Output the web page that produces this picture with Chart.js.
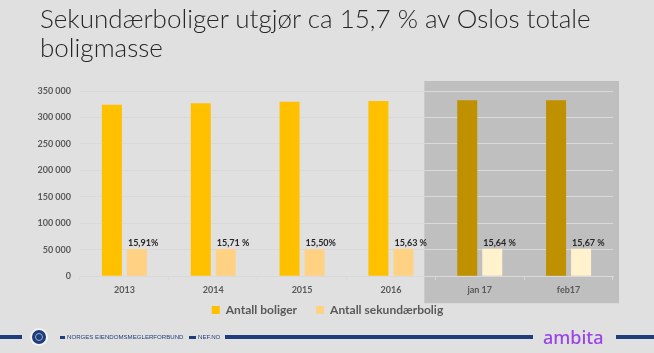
<!DOCTYPE html>
<html>
<head>
<meta charset="utf-8">
<script src="https://cdn.jsdelivr.net/npm/chart.js@4"></script>
<style>
  html, body { margin: 0; padding: 0; }
  body { width: 654px; height: 353px; background: #e0e0e0; position: relative; overflow: hidden; font-family: Lato, sans-serif; }
  #wrap { position: absolute; left: 0; top: 0; width: 654px; height: 353px; }
  .title { position: absolute; left: 40px; top: 4px; font-size: 26px; line-height: 29px; font-weight: 300; color: #262626; white-space: nowrap; }
  .bar { position: absolute; top: 335px; height: 4px; background: #1f3d7a; }
  .sq { position: absolute; top: 336px; height: 3px; background: #1f3d7a; }
  .nef { position: absolute; top: 333px; font-family: "Liberation Sans", sans-serif; font-size: 6.1px; color: #1f3d7a; }
  .logo { position: absolute; left: 32px; top: 330px; width: 14px; height: 14px; border-radius: 50%; background: #1f3d7a; box-shadow: 0 0 0 2px #f4f4f4; }
  .logo::after { content: ""; position: absolute; left: 3px; top: 3px; width: 6px; height: 6px; border-radius: 50%; border: 1px solid #9fb0d0; }
  .ambita { position: absolute; left: 543px; top: 327px; font-family: "Noto Sans", sans-serif; font-size: 18px; line-height: 20px; font-weight: 500; color: #9a45e3; }
</style>
</head>
<body>
<div id="wrap"><canvas id="chart" width="654" height="353"></canvas></div>
<div class="title">Sekundærboliger utgjør ca 15,7 % av Oslos totale<br>boligmasse</div>

<div class="bar" style="left:0;width:22px"></div>
<div class="logo"></div>
<div class="sq" style="left:60px;width:5px"></div>
<div class="nef" style="left:67px">NORGES EIENDOMSMEGLERFORBUND</div>
<div class="sq" style="left:189px;width:7px"></div>
<div class="nef" style="left:198px">NEF.NO</div>
<div class="bar" style="left:225px;width:308px"></div>
<div class="ambita">ambita</div>
<div class="bar" style="left:616px;width:38px"></div>

<script>
const categories = ["2013", "2014", "2015", "2016", "jan 17", "feb17"];
const antallBoliger = [324200, 326700, 329900, 331000, 332400, 332400];
const antallSekundaer = [51600, 51300, 51100, 51700, 52000, 52100];
const pctLabels = ["15,91%", "15,71 %", "15,50%", "15,63 %", "15,64 %", "15,67 %"];
const highlightFrom = 4; // jan 17 and feb17 sit in the grey box

const tickColor = "#595959";

// grey panel behind the last two categories
const highlightBox = {
  id: "highlightBox",
  afterLayout(chart) {
    // legend sits closer to the axis labels (and a bit further right) than chart.js puts it
    const lg = chart.legend;
    lg.top -= 14;
    lg.bottom -= 14;
    lg.left += 21;
    lg.right += 21;
  },
  beforeDraw(chart) {
    const { ctx, chartArea, scales } = chart;
    const x = scales.x;
    const left = (x.getPixelForValue(highlightFrom - 1) + x.getPixelForValue(highlightFrom)) / 2 - 11;
    ctx.save();
    ctx.fillStyle = "#bfbfbf";
    ctx.fillRect(left, chartArea.top - 10, chartArea.right + 6 - left, chartArea.bottom + 27 - (chartArea.top - 10));
    ctx.restore();
  },
};

// percentage text above the secondary bars
const pctText = {
  id: "pctText",
  afterDatasetsDraw(chart) {
    const { ctx } = chart;
    const meta = chart.getDatasetMeta(1);
    ctx.save();
    ctx.font = "bold 9px Lato";
    ctx.fillStyle = "#262626";
    ctx.textAlign = "left";
    ctx.textBaseline = "alphabetic";
    meta.data.forEach((bar, i) => {
      ctx.fillText(pctLabels[i], bar.x - bar.width / 2 + 1, bar.y - 3);
    });
    ctx.restore();
  },
};

new Chart(document.getElementById("chart"), {
  type: "bar",
  data: {
    labels: categories,
    datasets: [
      {
        label: "Antall boliger",
        data: antallBoliger,
        backgroundColor: (c) => (c.dataIndex >= highlightFrom ? "#bf9000" : "#ffc000"),
      },
      {
        label: "Antall sekundærbolig",
        data: antallSekundaer,
        backgroundColor: (c) => (c.dataIndex >= highlightFrom ? "#fff2cc" : "#ffd183"),
      },
    ],
  },
  options: {
    responsive: false,
    animation: false,
    devicePixelRatio: 1,
    categoryPercentage: 0.563,
    barPercentage: 0.8,
    layout: { padding: { top: 91, left: 0, right: 41, bottom: 13 } },
    plugins: {
      legend: {
        position: "bottom",
        labels: {
          boxWidth: 8,
          boxHeight: 8,
          padding: 19,
          color: tickColor,
          font: { family: "Lato", size: 12, weight: "bold" },
        },
      },
      tooltip: { enabled: false },
    },
    scales: {
      x: {
        grid: { drawOnChartArea: false, color: "#d9d9d9", tickLength: 4 },
        border: { color: "#d9d9d9" },
        ticks: { color: tickColor, padding: 4, font: { family: "Lato", size: 9, weight: "bold" } },
      },
      y: {
        min: 0,
        max: 350000,
        afterFit(scale) { scale.width = 80; },
        grid: { color: "#d9d9d9", drawTicks: false },
        border: { display: false },
        ticks: {
          stepSize: 50000,
          padding: 9,
          color: tickColor,
          font: { family: "Lato", size: 9, weight: "bold" },
          callback: (v) => String(v).replace(/\B(?=(\d{3})+(?!\d))/g, " "),
        },
      },
    },
  },
  plugins: [highlightBox, pctText],
});
</script>
</body>
</html>
